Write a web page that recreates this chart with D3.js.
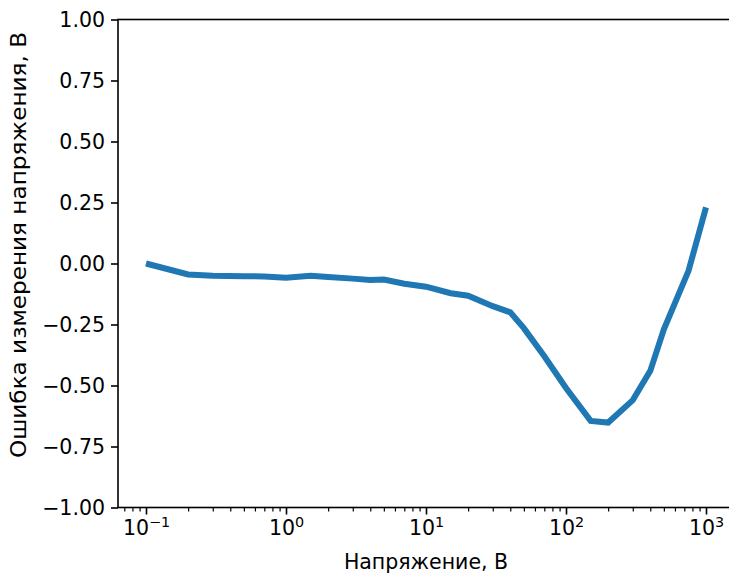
<!DOCTYPE html>
<html>
<head>
<meta charset="utf-8">
<script src="https://cdn.jsdelivr.net/npm/d3@7"></script>
<style>
  body { margin: 0; background: #fff; }
  svg text { font-family: 'DejaVu Sans', sans-serif; fill: #000; }
</style>
</head>
<body>
<div id="chart"></div>
<script>
const voltage = [0.1, 0.2, 0.3, 0.5, 0.7, 1, 1.5, 2, 3, 4, 5, 7, 10, 15, 20, 30, 40, 50, 70, 100, 150, 200, 300, 400, 500, 750, 1000]
const error = [0.0, -0.045, -0.05, -0.052, -0.053, -0.058, -0.05, -0.055, -0.062, -0.068, -0.066, -0.083, -0.095, -0.122, -0.132, -0.175, -0.2, -0.265, -0.38, -0.51, -0.645, -0.652, -0.56, -0.44, -0.27, -0.03, 0.23]
const xTicks = [0.1, 1, 10, 100, 1000]
const xExponents = ['\u22121', '0', '1', '2', '3']
const yTicks = [-1, -0.75, -0.5, -0.25, 0, 0.25, 0.5, 0.75, 1]
const xLabel = 'Напряжение, В'
const yLabel = 'Ошибка измерения напряжения, В'

const width = 729
const height = 575
const margin = { top: 19.5, right: -5, bottom: 67.5, left: 118 }

const svg = d3.select('#chart').append('svg')
  .attr('width', width)
  .attr('height', height)

const xScale = d3.scaleLog()
  .domain([Math.pow(10, -1.2), Math.pow(10, 3.2)])
  .range([margin.left, width - margin.right])

const yScale = d3.scaleLinear()
  .domain([-1, 1])
  .range([height - margin.bottom, margin.top])

// minor ticks 2..9 of each decade
const minorTicks = []
for (let e = -2; e <= 3; e++) {
  for (let m = 2; m <= 9; m++) {
    const v = m * Math.pow(10, e)
    if (v >= xScale.domain()[0] && v <= xScale.domain()[1]) minorTicks.push(v)
  }
}

const fontSize = 20.5

// data line
const line = d3.line()
  .x((d, i) => xScale(voltage[i]))
  .y(d => yScale(d))

svg.append('path')
  .datum(error)
  .attr('d', line)
  .attr('fill', 'none')
  .attr('stroke', '#1f77b4')
  .attr('stroke-width', 6)
  .attr('stroke-linejoin', 'miter')

// x axis
const xAxis = svg.append('g')
  .attr('transform', `translate(0, ${yScale(-1)})`)
  .call(d3.axisBottom(xScale).tickValues(xTicks).tickSize(7).tickPadding(6).tickFormat(() => ''))
xAxis.select('.domain').remove()
xAxis.selectAll('line').attr('stroke', '#000').attr('stroke-width', 1.6)
xAxis.selectAll('text')
  .attr('font-size', fontSize)
  .attr('font-family', 'DejaVu Sans')
  .each(function (d, i) {
    const t = d3.select(this)
    t.append('tspan').text('10')
    t.append('tspan').attr('dy', '-0.55em').attr('font-size', fontSize * 0.7).text(xExponents[i])
  })

svg.append('g')
  .attr('transform', `translate(0, ${yScale(-1)})`)
  .call(d3.axisBottom(xScale).tickValues(minorTicks).tickSize(4).tickFormat(() => ''))
  .call(g => g.select('.domain').remove())
  .selectAll('line').attr('stroke', '#000').attr('stroke-width', 1.2)

// y axis
const yAxis = svg.append('g')
  .attr('transform', `translate(${margin.left}, 0)`)
  .call(d3.axisLeft(yScale).tickValues(yTicks).tickSize(7).tickPadding(6)
    .tickFormat(d => d3.format('.2f')(d).replace('-', '\u2212')))
yAxis.select('.domain').remove()
yAxis.selectAll('line').attr('stroke', '#000').attr('stroke-width', 1.6)
yAxis.selectAll('text').attr('font-size', fontSize).attr('font-family', 'DejaVu Sans')

// frame
svg.append('rect')
  .attr('x', margin.left)
  .attr('y', yScale(1))
  .attr('width', xScale.range()[1] - margin.left)
  .attr('height', yScale(-1) - yScale(1))
  .attr('fill', 'none')
  .attr('stroke', '#000')
  .attr('stroke-width', 1.6)

// axis titles
svg.append('text')
  .attr('x', 426)
  .attr('y', 569)
  .attr('text-anchor', 'middle')
  .attr('font-size', fontSize)
  .text(xLabel)

svg.append('text')
  .attr('transform', `translate(26, 245) rotate(-90)`)
  .attr('text-anchor', 'middle')
  .attr('font-size', fontSize)
  .attr('textLength', 426)
  .attr('lengthAdjust', 'spacingAndGlyphs')
  .text(yLabel)
</script>
</body>
</html>
